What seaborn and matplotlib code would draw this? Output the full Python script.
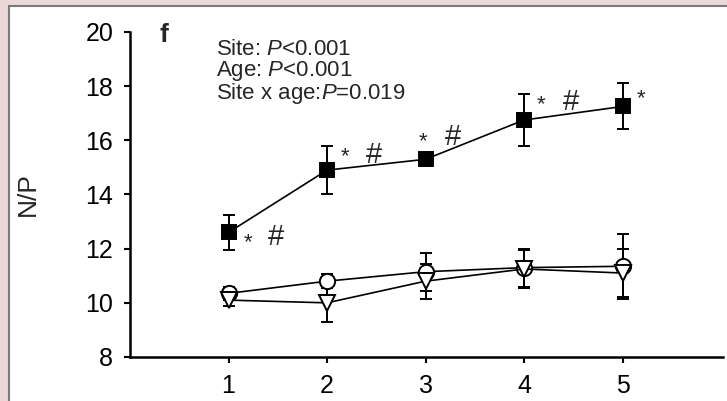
import matplotlib
matplotlib.use("Agg")
import matplotlib.pyplot as plt
import numpy as np
import pandas as pd
import seaborn as sns
from matplotlib.patches import Rectangle

# age classes and the three sites
ages = [1, 2, 3, 4, 5]
np_square = [12.6, 14.9, 15.3, 16.75, 17.25]
np_square_err = [0.65, 0.9, 0.1, 0.95, 0.85]
np_circle = [10.35, 10.8, 11.15, 11.3, 11.35]
np_circle_err = [0.25, 0.25, 0.7, 0.7, 1.2]
np_triangle = [10.1, 10.0, 10.8, 11.25, 11.1]
np_triangle_err = [0.2, 0.7, 0.65, 0.7, 0.9]

# significance marks next to the filled squares
marks = ["* #", "* #", "* #", "* #", "*"]

stats_lines = ["Site: $\\mathit{P}$<0.001",
               "Age: $\\mathit{P}$<0.001",
               "Site x age:$\\mathit{P}$=0.019"]

sns.set_style("ticks")
plt.rcParams['font.family'] = ['Liberation Sans', 'DejaVu Sans']
plt.rcParams['mathtext.fontset'] = 'custom'
plt.rcParams['mathtext.it'] = 'Liberation Sans:italic'
plt.rcParams['mathtext.rm'] = 'Liberation Sans'

fig = plt.figure(figsize=(7.27, 4.01), dpi=100)
fig.patch.set_facecolor('#ecd7d9')
# white panel with grey frame
fig.patches.append(Rectangle((9 / 727, -0.01), 1.0, 1 - 6 / 401 + 0.01,
                             transform=fig.transFigure, facecolor='white',
                             edgecolor='#7a7a7a', linewidth=1.5, zorder=-10))

ax = fig.add_axes([130 / 727, 1 - 357 / 401, 593 / 727, 325 / 401])
ax.set_facecolor('none')

df = pd.DataFrame({
    'age': ages * 3,
    'np': np_circle + np_triangle + np_square,
    'err': np_circle_err + np_triangle_err + np_square_err,
    'site': ['circle'] * 5 + ['triangle'] * 5 + ['square'] * 5,
})

styles = {
    'circle': dict(marker='o', mfc='white', ms=11),
    'triangle': dict(marker='v', mfc='white', ms=11.5),
    'square': dict(marker='s', mfc='black', ms=10.5),
}

for site, st in styles.items():
    d = df[df['site'] == site]
    ax.errorbar(d['age'], d['np'], yerr=d['err'], fmt='none', ecolor='black',
                elinewidth=1.4, capsize=4.5, capthick=1.4, zorder=2)
    sns.lineplot(data=d, x='age', y='np', ax=ax, color='black', linewidth=1.2,
                 marker=st['marker'], markersize=st['ms'],
                 markerfacecolor=st['mfc'], markeredgecolor='black',
                 markeredgewidth=1.4, zorder=3)

# significance annotations (offsets in pixels from the square marker)
star_off = [(20, -10), (18, 13), (-2, 18), (17, 15), (18, 8)]
hash_off = [(47, -5), (47, 15), (27, 22), (47, 18), None]
for a, v, m, so, ho in zip(ages, np_square, marks, star_off, hash_off):
    ax.annotate('*', (a, v), xytext=so, textcoords='offset pixels',
                ha='center', va='center', fontsize=16)
    if '#' in m:
        ax.annotate('#', (a, v), xytext=ho, textcoords='offset pixels',
                    ha='center', va='center', fontsize=21)

ax.text(0.87, 19.74, "\n".join(stats_lines), fontsize=16, ha='left', va='top',
        linespacing=0.92)

ax.text(0.34, 19.88, 'f', fontsize=19, fontweight='bold', ha='center', va='center')

ax.set_xlim(0, 6.02)
ax.set_ylim(8, 20)
ax.set_xticks(ages)
ax.set_yticks([8, 10, 12, 14, 16, 18, 20])
ax.set_xlabel('')
ax.set_ylabel('N/P', fontsize=19)
ax.yaxis.set_label_coords(-0.152, 0.5)
ax.tick_params(labelsize=18, width=1.5, length=4, pad=8, direction='out', colors='black')
for sp in ['top', 'right']:
    ax.spines[sp].set_visible(False)
for sp in ['left', 'bottom']:
    ax.spines[sp].set_linewidth(1.8)
    ax.spines[sp].set_color('black')

fig.savefig('out.png', dpi=100, facecolor=fig.get_facecolor())
